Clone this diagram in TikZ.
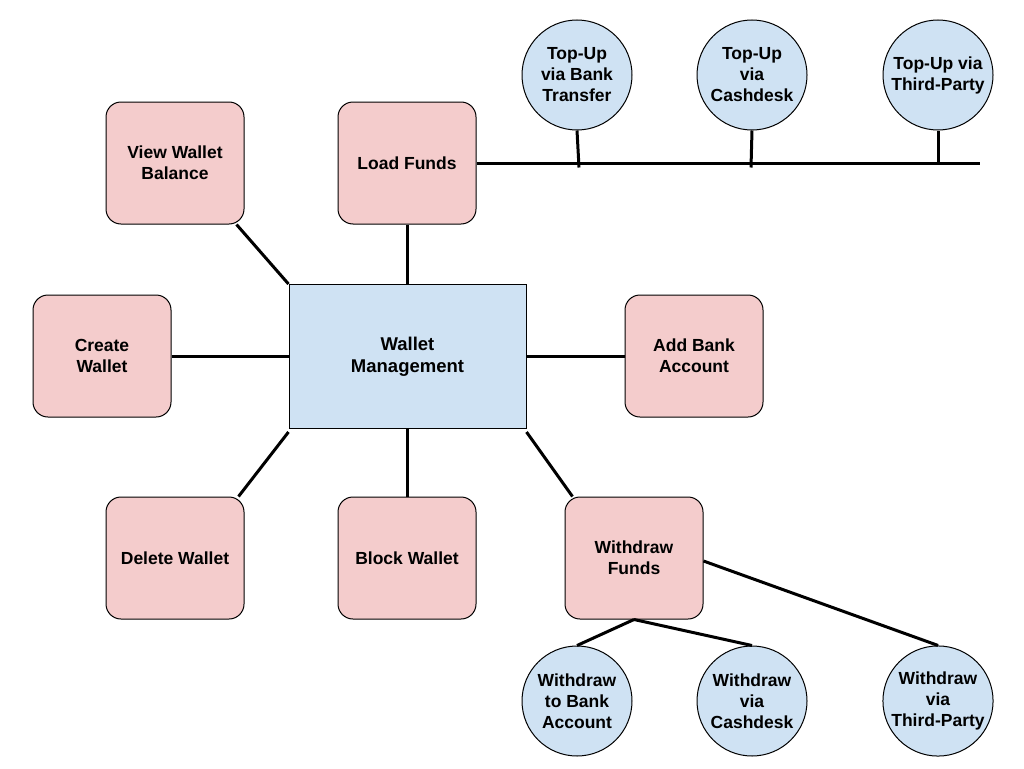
\documentclass[tikz,border=0pt]{standalone}
\usepackage{fontspec}
\setmainfont{Liberation Sans}
\usetikzlibrary{calc}
\definecolor{pinkfill}{HTML}{F4CCCC}
\definecolor{bluefill}{HTML}{CFE2F3}
\begin{document}
\begin{tikzpicture}[x=1pt,y=-1pt,
 every node/.style={font=\bfseries\fontsize{17.5}{21}\selectfont, align=center, inner sep=0pt},
 pinkbox/.style={draw=black, line width=1pt, fill=pinkfill, rounded corners=15pt, minimum width=138pt, minimum height=122pt},
 mainbox/.style={draw=black, line width=1pt, fill=bluefill, minimum width=237pt, minimum height=144pt, font=\bfseries\fontsize{18.5}{22}\selectfont},
 bubble/.style={draw=black, line width=1pt, fill=bluefill, circle, minimum size=110pt},
 conn/.style={line width=3pt}]
\useasboundingbox (0,0) rectangle (1024,768);

\coordinate (wmc) at (407.5,356.5);
\coordinate (vwbc) at (175,163);
\coordinate (lfc) at (407,163);
\coordinate (cwc) at (102,356);
\coordinate (abac) at (694,356);
\coordinate (dwc) at (175,558);
\coordinate (bwc) at (407,558);
\coordinate (wfc) at (634,558);

\node[mainbox] (wm) at (wmc) {Wallet\\Management};
\node[pinkbox] (vwb) at (vwbc) {View Wallet\\Balance};
\node[pinkbox] (lf) at (lfc) {Load Funds};
\node[pinkbox] (cw) at (cwc) {Create\\Wallet};
\node[pinkbox] (aba) at (abac) {Add Bank\\Account};
\node[pinkbox] (dw) at (dwc) {Delete Wallet};
\node[pinkbox] (bw) at (bwc) {Block Wallet};
\node[pinkbox] (wf) at (wfc) {Withdraw\\Funds};

\node[bubble] (tbt) at (577,75) {Top-Up\\via Bank\\Transfer};
\node[bubble] (tcd) at (752,75) {Top-Up\\via\\Cashdesk};
\node[bubble] (ttp) at (938,75) {Top-Up via\\Third-Party};

\node[bubble] (wba) at (577,701) {Withdraw\\to Bank\\Account};
\node[bubble] (wcd) at (752,701) {Withdraw\\via\\Cashdesk};
\node[bubble] (wtp) at (938,701) {Withdraw\\via\\Third-Party};

\coordinate (lineend) at (980,163);

\draw[conn] ($(vwb.south east)+(-8,0)$) -- (wm.north west);
\draw[conn] (lf.south) -- (wm.north -| lf.south);
\draw[conn] (cw.east) -- (cw.east -| wm.west);
\draw[conn] (aba.west -| wm.east) -- (aba.west);
\draw[conn] ($(dw.north east)+(-6,0)$) -- ($(wm.south west)+(0,3)$);
\draw[conn] (bw.north) -- (wm.south -| bw.north);
\draw[conn] ($(wm.south east)+(0,3)$) -- ($(wf.north west)+(8,0)$);

\draw[conn] (lf.east) -- (lineend);
\draw[conn] (tbt.south) -- ($(tbt.south)+(2,37)$);
\draw[conn] (tcd.south) -- ($(tcd.south)+(-1,37)$);
\draw[conn] (ttp.south) -- ($(ttp.south)+(0,33)$);

\draw[conn] (wf.south) -- (wba.north);
\draw[conn] (wf.south) -- (wcd.north);
\draw[conn] ($(wf.east)+(0,3)$) -- (wtp.north);
\end{tikzpicture}
\end{document}
